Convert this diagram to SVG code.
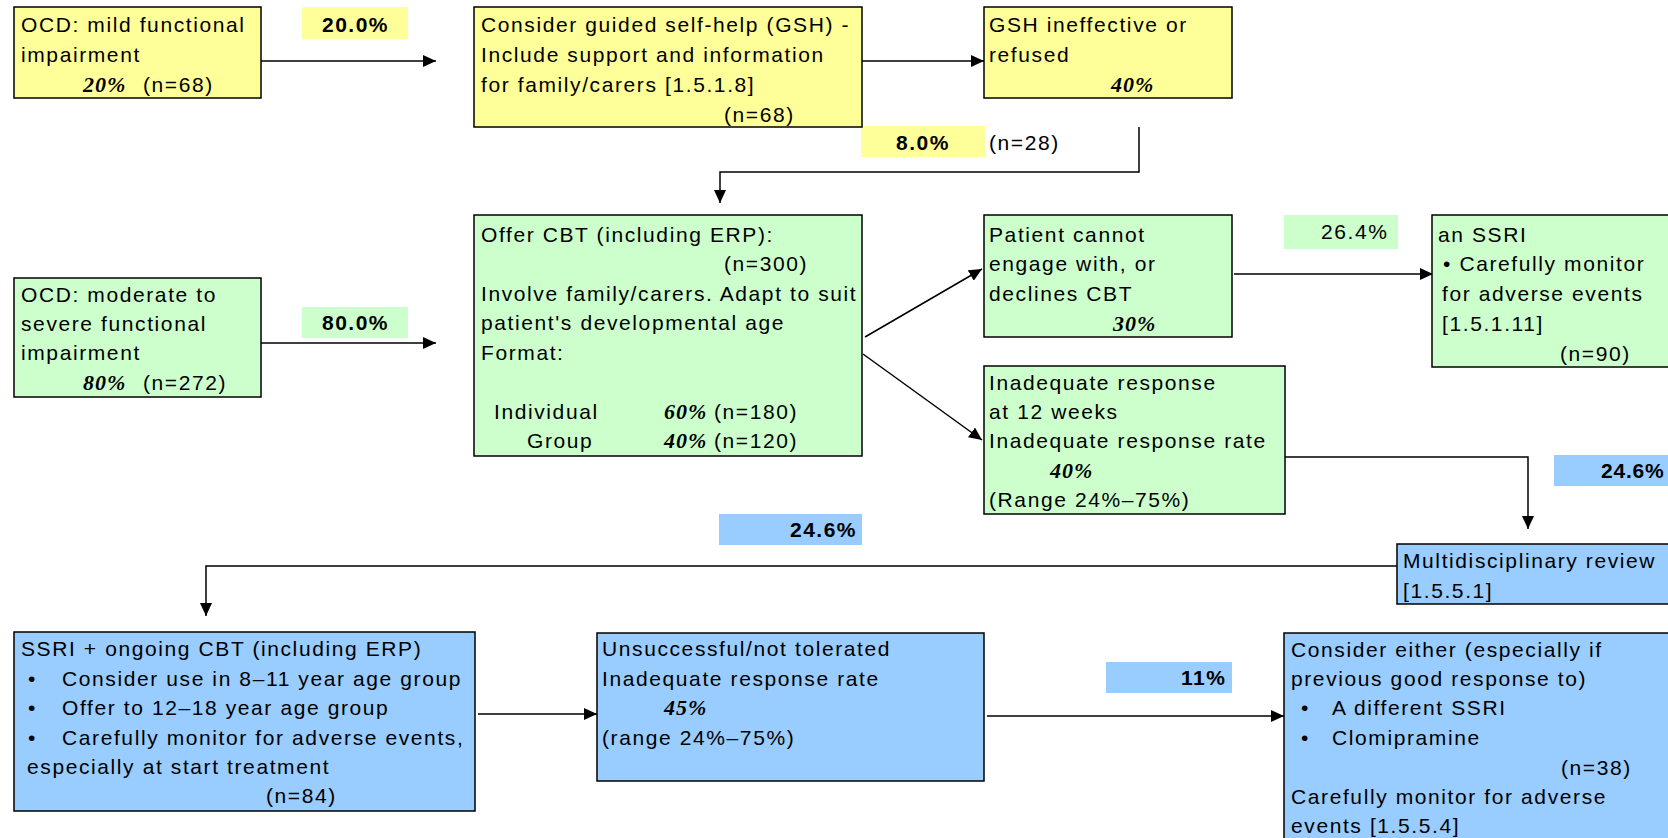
<svg xmlns="http://www.w3.org/2000/svg" width="1668" height="838" viewBox="0 0 1668 838">
<style>
.t{font-family:"Liberation Sans",Arial,sans-serif;font-size:21px;letter-spacing:1.6px;fill:#000}
.p{font-family:"Liberation Serif","Times New Roman",serif;font-weight:bold;font-style:italic;font-size:22px;letter-spacing:1px}
.lb{font-family:"Liberation Sans",Arial,sans-serif;font-weight:bold;font-size:21px;letter-spacing:1.5px;fill:#000}
.y{fill:#FFFF99;stroke:#000;stroke-width:1.5}
.g{fill:#CCFFCC;stroke:#000;stroke-width:1.5}
.b{fill:#99CCFF;stroke:#000;stroke-width:1.5}
.ly{fill:#FFFF99}
.lg{fill:#CCFFCC}
.lbl{fill:#99CCFF}
.c{stroke:#000;stroke-width:1.5;fill:none;marker-end:url(#ah)}
</style>
<defs>
<marker id="ah" markerUnits="userSpaceOnUse" markerWidth="14" markerHeight="12" refX="13" refY="6" orient="auto">
<path d="M0,0 L13,6 L0,12 z" fill="#000"/>
</marker>
</defs>
<rect width="1668" height="838" fill="#fff"/>

<g id="connectors">
<path class="c" d="M261,61 L436,61"/>
<path class="c" d="M862,61 L984,61"/>
<path class="c" d="M1139,127 L1139,172 L720,172 L720,203"/>
<path class="c" d="M261,343 L436,343"/>
<path class="c" d="M865,337 L982,269"/>
<path class="c" d="M863,354 L982,440"/>
<path class="c" d="M1234,274 L1433,274"/>
<path class="c" d="M1285,457 L1528,457 L1528,529"/>
<path class="c" d="M1397,566 L206,566 L206,616"/>
<path class="c" d="M478,714 L597,714"/>
<path class="c" d="M987,716 L1284,716"/>
</g>

<g id="lbl-20">
<rect class="ly" x="302" y="7" width="106" height="32"/>
<text class="lb" x="322" y="31.5">20.0%</text>
</g>
<g id="lbl-80">
<rect class="lg" x="302" y="307" width="106" height="31"/>
<text class="lb" x="322" y="330">80.0%</text>
</g>
<g id="lbl-8">
<rect class="ly" x="861" y="126" width="124" height="31"/>
<text class="lb" x="896" y="150">8.0%</text>
</g>
<text class="t" x="989" y="150">(n=28)</text>
<g id="lbl-264">
<rect class="lg" x="1284" y="215" width="114" height="34"/>
<text class="t" x="1321" y="239">26.4%</text>
</g>
<g id="lbl-246r">
<rect class="lbl" x="1554" y="455" width="120" height="31"/>
<text class="lb" x="1601" y="478" style="letter-spacing:0.8px">24.6%</text>
</g>
<g id="lbl-246m">
<rect class="lbl" x="719" y="514" width="143" height="31"/>
<text class="lb" x="790" y="537">24.6%</text>
</g>
<g id="lbl-11">
<rect class="lbl" x="1106" y="662" width="126" height="31"/>
<text class="lb" x="1181" y="685">11%</text>
</g>

<g id="mild">
<rect class="y" x="14" y="7" width="247" height="91"/>
<text class="t" x="21" y="31.5">OCD: mild functional</text>
<text class="t" x="21" y="61.5">impairment</text>
<text class="t" y="91.5"><tspan class="p" x="83">20%</tspan><tspan x="143">(n=68)</tspan></text>
</g>

<g id="gsh">
<rect class="y" x="474" y="7" width="388" height="120"/>
<text class="t" x="481" y="31.5">Consider guided self-help (GSH) -</text>
<text class="t" x="481" y="61.5">Include support and information</text>
<text class="t" x="481" y="91.5">for family/carers [1.5.1.8]</text>
<text class="t" x="724" y="121.5">(n=68)</text>
</g>

<g id="gsh-fail">
<rect class="y" x="984" y="7" width="248" height="91"/>
<text class="t" x="989" y="31.5">GSH ineffective or</text>
<text class="t" x="989" y="61.5">refused</text>
<text class="p" x="1111" y="91.5">40%</text>
</g>

<g id="moderate">
<rect class="g" x="14" y="278" width="247" height="119"/>
<text class="t" x="21" y="301.5">OCD: moderate to</text>
<text class="t" x="21" y="331">severe functional</text>
<text class="t" x="21" y="360">impairment</text>
<text class="t" y="389.5"><tspan class="p" x="83">80%</tspan><tspan x="143">(n=272)</tspan></text>
</g>

<g id="cbt">
<rect class="g" x="474" y="215" width="388" height="241"/>
<text class="t" x="481" y="241.5">Offer CBT (including ERP):</text>
<text class="t" x="724" y="271">(n=300)</text>
<text class="t" x="481" y="300.5">Involve family/carers. Adapt to suit</text>
<text class="t" x="481" y="330">patient's developmental age</text>
<text class="t" x="481" y="359.5">Format:</text>
<text class="t" y="418.5"><tspan x="494">Individual</tspan><tspan class="p" x="664">60%</tspan><tspan x="714">(n=180)</tspan></text>
<text class="t" y="448"><tspan x="527">Group</tspan><tspan class="p" x="664">40%</tspan><tspan x="714">(n=120)</tspan></text>
</g>

<g id="declines">
<rect class="g" x="984" y="215" width="248" height="122"/>
<text class="t" x="989" y="241.5">Patient cannot</text>
<text class="t" x="989" y="271">engage with, or</text>
<text class="t" x="989" y="300.5">declines CBT</text>
<text class="p" x="1113" y="330.5">30%</text>
</g>

<g id="ssri">
<rect class="g" x="1432" y="215" width="250" height="152"/>
<text class="t" x="1438" y="241.5">an SSRI</text>
<text class="t" x="1443" y="271">• Carefully monitor</text>
<text class="t" x="1442" y="300.5">for adverse events</text>
<text class="t" x="1442" y="330.5">[1.5.1.11]</text>
<text class="t" x="1560" y="360.5">(n=90)</text>
</g>

<g id="inadequate">
<rect class="g" x="984" y="366" width="301" height="148"/>
<text class="t" x="989" y="390">Inadequate response</text>
<text class="t" x="989" y="419">at 12 weeks</text>
<text class="t" x="989" y="448">Inadequate response rate</text>
<text class="p" x="1050" y="477.5">40%</text>
<text class="t" x="989" y="507">(Range 24%–75%)</text>
</g>

<g id="review">
<rect class="b" x="1397" y="544" width="285" height="60"/>
<text class="t" x="1403" y="568">Multidisciplinary review</text>
<text class="t" x="1403" y="598">[1.5.5.1]</text>
</g>

<g id="ssri-cbt">
<rect class="b" x="14" y="632" width="461" height="179"/>
<text class="t" x="21" y="656">SSRI + ongoing CBT (including ERP)</text>
<text class="t" y="685.5"><tspan x="28">•</tspan><tspan x="62">Consider use in 8–11 year age group</tspan></text>
<text class="t" y="715"><tspan x="28">•</tspan><tspan x="62">Offer to 12–18 year age group</tspan></text>
<text class="t" y="744.5"><tspan x="28">•</tspan><tspan x="62">Carefully monitor for adverse events,</tspan></text>
<text class="t" x="27" y="774">especially at start treatment</text>
<text class="t" x="266" y="803">(n=84)</text>
</g>

<g id="unsuccessful">
<rect class="b" x="597" y="633" width="387" height="148"/>
<text class="t" x="602" y="656">Unsuccessful/not tolerated</text>
<text class="t" x="602" y="685.5">Inadequate response rate</text>
<text class="p" x="664" y="715">45%</text>
<text class="t" x="602" y="744.5">(range 24%–75%)</text>
</g>

<g id="either">
<rect class="b" x="1284" y="633" width="400" height="220"/>
<text class="t" x="1291" y="656.5">Consider either (especially if</text>
<text class="t" x="1291" y="686">previous good response to)</text>
<text class="t" y="715"><tspan x="1301">•</tspan><tspan x="1332">A different SSRI</tspan></text>
<text class="t" y="744.5"><tspan x="1301">•</tspan><tspan x="1332">Clomipramine</tspan></text>
<text class="t" x="1561" y="774.5">(n=38)</text>
<text class="t" x="1291" y="804">Carefully monitor for adverse</text>
<text class="t" x="1291" y="833">events [1.5.5.4]</text>
</g>
</svg>
